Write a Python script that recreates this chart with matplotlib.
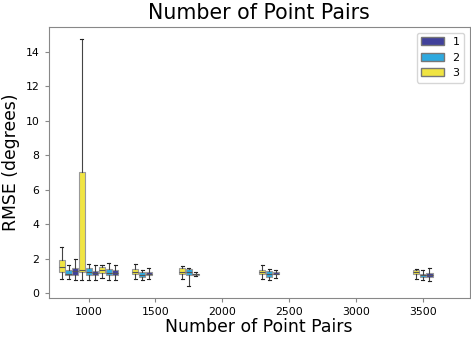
import matplotlib
matplotlib.use("Agg")
import matplotlib.pyplot as plt
from matplotlib.patches import Patch

# Box centers (number of point pairs) and per-config box stats
pairs = [850, 1000, 1150, 1400, 1750, 2350, 3500]
configs = ["3", "2", "1"]
colors = {"1": "#41419b", "2": "#2ea9df", "3": "#f0e442"}

# whislo, q1, med, q3, whishi for each config, one entry per pairs value
stats3 = [
    (0.85, 1.23, 1.52, 1.96, 2.68),
    (0.79, 1.23, 1.33, 7.04, 14.73),
    (0.89, 1.19, 1.33, 1.52, 1.62),
    (0.81, 1.14, 1.23, 1.42, 1.71),
    (0.85, 1.10, 1.23, 1.48, 1.56),
    (0.81, 1.10, 1.23, 1.37, 1.62),
    (0.85, 1.14, 1.23, 1.35, 1.39),
]
stats2 = [
    (0.81, 1.08, 1.14, 1.33, 1.62),
    (0.75, 1.04, 1.23, 1.46, 1.71),
    (0.79, 1.04, 1.19, 1.42, 1.75),
    (0.79, 0.94, 1.08, 1.23, 1.33),
    (0.45, 1.04, 1.23, 1.42, 1.46),
    (0.75, 0.94, 1.10, 1.27, 1.39),
    (0.79, 0.96, 1.04, 1.14, 1.33),
]
stats1 = [
    (0.79, 1.08, 1.29, 1.48, 2.00),
    (0.79, 1.04, 1.18, 1.29, 1.62),
    (0.79, 1.04, 1.19, 1.33, 1.62),
    (0.85, 1.04, 1.12, 1.23, 1.46),
    (1.00, 1.08, 1.11, 1.14, 1.23),
    (0.90, 1.10, 1.15, 1.21, 1.33),
    (0.71, 0.94, 1.04, 1.18, 1.46),
]
all_stats = {"3": stats3, "2": stats2, "1": stats1}
offsets = {"3": -50, "2": 0, "1": 50}

fig, ax = plt.subplots(figsize=(4.71, 3.37), dpi=100)
fig.subplots_adjust(left=0.103, right=0.997, top=0.920, bottom=0.116)

for c in configs:
    bstats = []
    for s in all_stats[c]:
        lo, q1, med, q3, hi = s
        bstats.append({"whislo": lo, "q1": q1, "med": med, "q3": q3,
                       "whishi": hi, "fliers": []})
    pos = [p + offsets[c] for p in pairs]
    ax.bxp(bstats, positions=pos, widths=46, patch_artist=True,
           manage_ticks=False, showfliers=False,
           boxprops=dict(facecolor=colors[c], edgecolor="#999999", linewidth=0.8),
           medianprops=dict(color="#555555", linewidth=0.8),
           whiskerprops=dict(color="#444444", linewidth=0.8),
           capprops=dict(color="#222222", linewidth=0.8))

ax.set_xlim(700, 3850)
ax.set_xticks([1000, 1500, 2000, 2500, 3000, 3500])
ax.set_yticks([0, 2, 4, 6, 8, 10, 12, 14])
ax.tick_params(labelsize=7.8, color="#888888", length=3)
for sp in ax.spines.values():
    sp.set_color("#888888")

ax.set_title("Number of Point Pairs", fontsize=14.8)
ax.set_xlabel("Number of Point Pairs", fontsize=12.4, labelpad=1)
ax.set_ylabel("RMSE (degrees)", fontsize=12.4)

handles = [Patch(facecolor=colors[c], edgecolor="#777777", label=c) for c in ["1", "2", "3"]]
ax.legend(handles=handles, loc="upper right", fontsize=8)

plt.savefig("out.png", dpi=100)
